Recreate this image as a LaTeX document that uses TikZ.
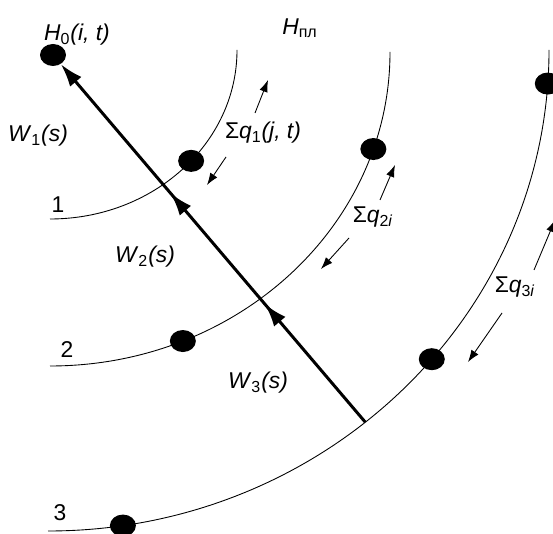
\documentclass[tikz,border=0pt]{standalone}
\usepackage{fontspec}
\setmainfont{Liberation Sans}
\usetikzlibrary{arrows.meta}
\usetikzlibrary{decorations.markings}
\usetikzlibrary{shapes.geometric}
\tikzset{
    midarrows/.style={
        decoration={markings,
            mark=at position 0.33 with {\arrow{Latex[length=0.46cm, width=0.3cm]}},
            mark=at position 0.64 with {\arrow{Latex[length=0.46cm, width=0.3cm]}}},
        postaction={decorate}
    },
    mainline/.style={line width=1.7pt, -{Latex[length=0.46cm, width=0.3cm]}},
    shell/.style={line width=0.5pt},
    blob/.style={ellipse, fill, inner sep=0pt, minimum width=0.52cm, minimum height=0.44cm},
    lbl/.style={font=\fontsize{13}{15}\selectfont, inner sep=0pt},
    num/.style={font=\fontsize{13}{15}\selectfont, inner sep=0pt},
    flow/.style={line width=0.5pt, -{Latex[length=0.24cm, width=0.17cm]}}
}

\begin{document}
\begin{tikzpicture}[ x=0.02cm, y=0.02cm ]

	\useasboundingbox (0, 0) rectangle (553, 533);
	\clip (0, 0) rectangle (553, 533);

	% layers 1, 2, 3
	\draw[ shell ] (50, 314) arc[start angle=270, end angle=360, x radius=187, y radius=169];
	\draw[ shell ] (50, 167) arc[start angle=270, end angle=360, x radius=340, y radius=314];
	\draw[ shell ] (48, 2) arc[start angle=270, end angle=360, x radius=501, y radius=481];

	\node[ blob ] (h0) at (53, 478) {};
	\node[ blob ] (w1) at ([shift={(50, 483)}] 319:187 and 169) {};
	\node[ blob ] (w2a) at ([shift={(50, 481)}] 342:340 and 314) {};
	\node[ blob ] (w2b) at ([shift={(50, 481)}] 293:340 and 314) {};
	\node[ blob ] (w3a) at ([shift={(48, 483)}] 356:501 and 481) {};
	\node[ blob ] (w3b) at ([shift={(48, 483)}] 320:501 and 481) {};
	\node[ blob ] (w3c) at ([shift={(48, 483)}] 278.6:501 and 481) {};
	\coordinate (foot) at ([shift={(48, 483)}] 309.3:501 and 481);

	\draw[ mainline, midarrows ] (foot) -- (h0);

	\node[ lbl ] (lblh0) at (77, 498) {\textit{H}\textsubscript{0}\textit{(i, t)}};
	\node[ lbl ] (lblhpl) at (300, 505) {\textit{H}\textsubscript{пл}};
	\node[ lbl ] (lblw1) at (38, 397) {\textit{W}\textsubscript{1}\textit{(s)}};
	\node[ lbl ] (lblw2) at (145, 276) {\textit{W}\textsubscript{2}\textit{(s)}};
	\node[ lbl ] (lblw3) at (258, 150) {\textit{W}\textsubscript{3}\textit{(s)}};
	\node[ lbl ] (lblq1) at (263, 400) {Σ\textit{q}\textsubscript{1}\textit{(j, t)}};
	\node[ lbl ] (lblq2) at (373, 316) {Σ\textit{q}\textsubscript{2\textit{i}}};
	\node[ lbl ] (lblq3) at (515, 246) {Σ\textit{q}\textsubscript{3\textit{i}}};
	\node[ num ] (n1) at (58, 328) {1};
	\node[ num ] (n2) at (67, 183) {2};
	\node[ num ] (n3) at (60, 20) {3};

	\draw[ flow ] (255, 420) -- (268, 453);
	\draw[ flow ] (226, 376) -- (207, 348);
	\draw[ flow ] (380, 333) -- (395, 368);
	\draw[ flow ] (349, 295) -- (321, 264);
	\draw[ flow ] (534, 263) -- (555, 313);
	\draw[ flow ] (502, 220) -- (468, 171);

\end{tikzpicture}
\end{document}
